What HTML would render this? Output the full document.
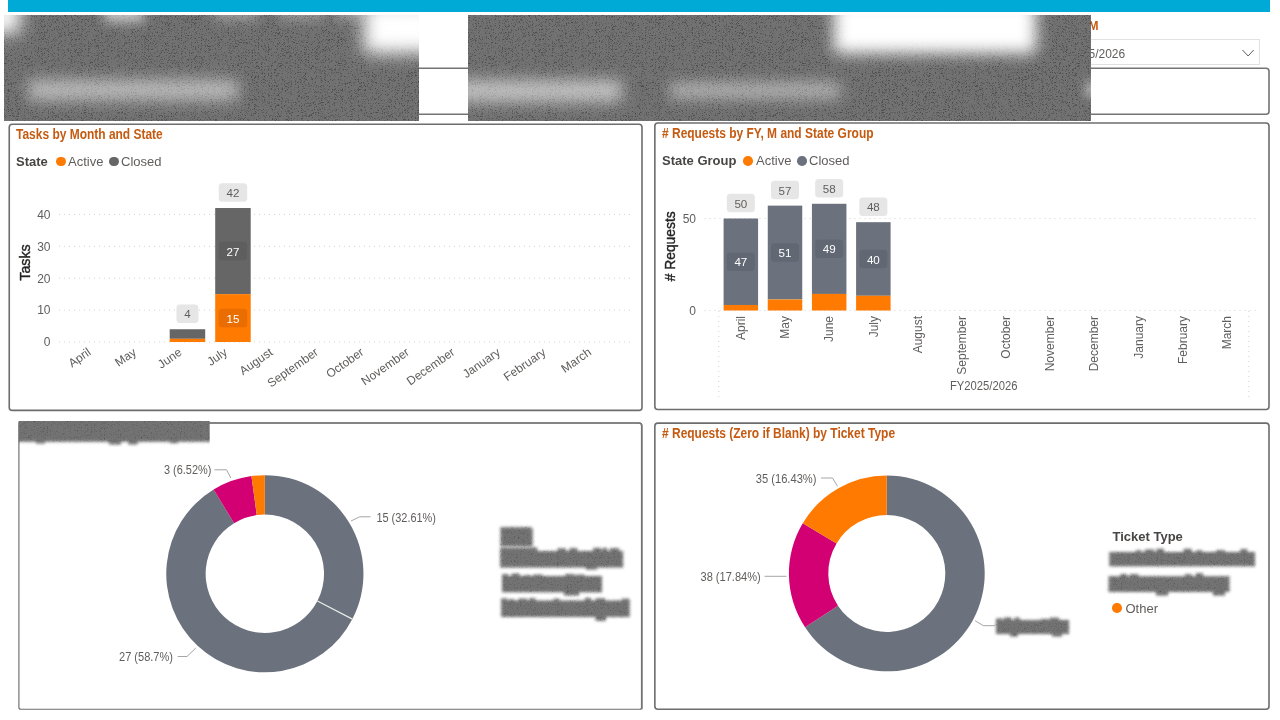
<!DOCTYPE html>
<html lang="en">
<head>
<meta charset="utf-8">
<title>Dashboard</title>
<style>
html,body{margin:0;padding:0;background:#fff;}
body{width:1280px;height:720px;position:relative;overflow:hidden;font-family:"Liberation Sans",sans-serif;color:#605e5c;}
.abs{position:absolute;}
.topbar{left:8px;top:0;width:1262px;height:12px;background:#00aad6;}
.panel{position:absolute;box-sizing:border-box;border:2px solid #767676;border-radius:4px;background:#fff;}
.title{position:absolute;font-weight:bold;color:#c55a11;font-size:14px;line-height:16px;white-space:nowrap;transform-origin:0 0;transform:scaleX(0.855);}
.leg{position:absolute;font-size:13px;line-height:16px;white-space:nowrap;color:#605e5c;}
.legb{position:absolute;font-size:13px;line-height:16px;white-space:nowrap;color:#484644;font-weight:bold;}
.dot{position:absolute;width:9.6px;height:9.6px;border-radius:50%;}
svg{position:absolute;left:0;top:0;overflow:visible;}
svg text{font-family:"Liberation Sans",sans-serif;font-size:12px;fill:#605e5c;}
.blur{position:absolute;overflow:hidden;background:#707070;}
.blob{position:absolute;}
</style>
</head>
<body>
<svg width="0" height="0" style="position:absolute">
  <defs>
    <filter id="noise" x="0" y="0" width="100%" height="100%">
      <feTurbulence type="fractalNoise" baseFrequency="2.3" numOctaves="1" seed="3" result="n"/>
      <feColorMatrix in="n" type="matrix" values="0 0 0 0 0  0 0 0 0 0  0 0 0 0 0  5 0 0 0 -2.65"/>
    </filter>
    <filter id="tp" x="-10%" y="-30%" width="120%" height="160%">
      <feGaussianBlur in="SourceGraphic" stdDeviation="1.35" result="b"/>
      <feTurbulence type="fractalNoise" baseFrequency="2.3" numOctaves="1" seed="7" result="t"/>
      <feColorMatrix in="t" type="matrix" values="0 0 0 0 0  0 0 0 0 0  0 0 0 0 0  1.7 0 0 0 -0.9" result="n"/>
      <feComposite in="n" in2="b" operator="in" result="nb"/>
      <feMerge><feMergeNode in="b"/><feMergeNode in="nb"/></feMerge>
    </filter>
  </defs>
</svg>
<div class="abs topbar"></div>
<div class="abs" style="left:1040px;top:39px;width:220px;height:26px;box-sizing:border-box;border:1px solid #e1e1e1;"></div>
<div class="abs" style="left:1088.5px;top:18px;font-weight:bold;font-size:12px;line-height:16px;color:#c55a11;">M</div>
<div class="abs" style="left:1088.5px;top:46px;font-size:12px;line-height:16px;color:#605e5c;">5/2026</div>
<svg width="1280" height="720" viewBox="0 0 1280 720"><path d="M1242.5 50 L1248.1 56 L1253.7 50" fill="none" stroke="#605e5c" stroke-width="1"/></svg>
<svg width="1280" height="720" viewBox="0 0 1280 720"><rect x="200" y="68.3" width="1069" height="46" rx="3" fill="#fff" stroke="#747474" stroke-width="1.6"/></svg>
<div class="blur" id="blur1" style="left:4px;top:15px;width:415px;height:106px;background:#727272;"><svg width="415" height="106" style="left:0;top:0;"><rect width="415" height="106" filter="url(#noise)" opacity="0.34"/></svg><div class="blob" style="left:-16px;top:-14px;width:32px;height:32px;background:#fff;filter:blur(9px);opacity:1;"></div><div class="blob" style="left:100px;top:-10px;width:40px;height:17px;background:#fff;filter:blur(6px);opacity:0.6;"></div><div class="blob" style="left:210px;top:-10px;width:44px;height:15px;background:#fff;filter:blur(6px);opacity:0.33;"></div><div class="blob" style="left:275px;top:-10px;width:44px;height:15px;background:#fff;filter:blur(6px);opacity:0.3;"></div><div class="blob" style="left:330px;top:-10px;width:30px;height:15px;background:#fff;filter:blur(6px);opacity:0.3;"></div><div class="blob" style="left:360px;top:-12px;width:75px;height:50px;background:#fff;filter:blur(9px);opacity:1;"></div><div class="blob" style="left:24px;top:65px;width:210px;height:20px;background:#fff;filter:blur(8px);opacity:0.54;"></div></div>
<div class="blur" id="blur2" style="left:468px;top:15px;width:623px;height:106px;background:#727272;"><svg width="623" height="106" style="left:0;top:0;"><rect width="623" height="106" filter="url(#noise)" opacity="0.34"/></svg><div class="blob" style="left:-14px;top:65px;width:168px;height:22px;background:#fff;filter:blur(8px);opacity:0.58;"></div><div class="blob" style="left:202px;top:68px;width:170px;height:15px;background:#fff;filter:blur(7.5px);opacity:0.5;"></div><div class="blob" style="left:366px;top:-14px;width:202px;height:52px;background:#fff;filter:blur(8px);opacity:1;"></div><div class="blob" style="left:617px;top:66px;width:14px;height:16px;background:#fff;filter:blur(5px);opacity:0.45;"></div></div>
<svg width="1280" height="720" viewBox="0 0 1280 720"><rect x="9.25" y="124.25" width="632.75" height="286.15" rx="3" fill="#fff" stroke="#6d6d6d" stroke-width="1.6"/><rect x="654.85" y="123" width="614.15" height="286.5" rx="3" fill="#fff" stroke="#6d6d6d" stroke-width="1.6"/><rect x="18.9" y="423" width="622.85" height="286.20000000000005" rx="2" fill="#fff" stroke="#6d6d6d" stroke-width="1.15"/><path d="M18.3 423 H638.75 a3 3 0 0 1 3 3 V709.2" fill="none" stroke="#747474" stroke-width="1.7"/><rect x="654.85" y="423.1" width="614.15" height="286.19999999999993" rx="3" fill="#fff" stroke="#6d6d6d" stroke-width="1.6"/></svg>
<svg width="1280" height="720" viewBox="0 0 1280 720"><defs><clipPath id="cp3"><rect x="18.6" y="421" width="191.1" height="26"/></clipPath></defs><g clip-path="url(#cp3)"><g filter="url(#tp)"><rect x="10" y="412" width="208" height="29.8" fill="#737373"/><rect x="36" y="440.5" width="9" height="3" fill="#737373"/><rect x="109" y="440.5" width="12" height="4" fill="#737373"/><rect x="128.5" y="440.5" width="9" height="4" fill="#737373"/><rect x="170" y="440.5" width="8" height="2.6" fill="#737373"/></g></g></svg>
<svg width="1280" height="720" viewBox="0 0 1280 720"><g filter="url(#tp)"><rect x="500.5" y="528.5" width="32.200000000000045" height="18.0" fill="#737373"/><rect x="500.5" y="527.2" width="31" height="2.2999999999999545" fill="#737373"/></g><g filter="url(#tp)"><rect x="500.2" y="551" width="122.90000000000003" height="16.5" fill="#737373"/><rect x="500.2" y="547.5" width="37" height="4.5" fill="#737373"/><rect x="557.6" y="548.4" width="8.3" height="5.5" fill="#737373"/><rect x="569.4" y="548.1" width="7.9" height="5.5" fill="#737373"/><rect x="593.2" y="547.9" width="7.7" height="5.5" fill="#737373"/><rect x="602.1" y="548.0" width="5.1" height="5.5" fill="#737373"/><rect x="609.8" y="548.3" width="9.5" height="5.5" fill="#737373"/><rect x="586" y="566.5" width="11" height="3.0" fill="#737373"/></g><g filter="url(#tp)"><rect x="502" y="576" width="100" height="16.299999999999955" fill="#737373"/><rect x="502.0" y="574.2" width="6.2" height="4.399999999999977" fill="#737373"/><rect x="511.6" y="573.6" width="8.1" height="4.399999999999977" fill="#737373"/><rect x="524.1" y="575.1" width="6.3" height="4.399999999999977" fill="#737373"/><rect x="533.3" y="574.6" width="9.2" height="4.399999999999977" fill="#737373"/><rect x="565.3" y="574.1" width="8.8" height="4.399999999999977" fill="#737373"/><rect x="575.2" y="574.7" width="9.3" height="4.399999999999977" fill="#737373"/><rect x="564" y="591.3" width="15" height="4.2000000000000455" fill="#737373"/></g><g filter="url(#tp)"><rect x="501.2" y="600.5" width="128.50000000000006" height="16.5" fill="#737373"/><rect x="501.2" y="598.4" width="6.2" height="4.7000000000000455" fill="#737373"/><rect x="509.0" y="599.2" width="5.3" height="4.7000000000000455" fill="#737373"/><rect x="518.5" y="598.6" width="8.8" height="4.7000000000000455" fill="#737373"/><rect x="529.5" y="598.1" width="5.9" height="4.7000000000000455" fill="#737373"/><rect x="553.4" y="598.7" width="6.0" height="4.7000000000000455" fill="#737373"/><rect x="585.0" y="597.9" width="5.9" height="4.7000000000000455" fill="#737373"/><rect x="595.6" y="598.3" width="9.3" height="4.7000000000000455" fill="#737373"/><rect x="621.8" y="598.7" width="7.5" height="4.7000000000000455" fill="#737373"/><rect x="595.5" y="616" width="10.5" height="4.7999999999999545" fill="#737373"/></g><g filter="url(#tp)"><rect x="1109.3" y="552" width="145.70000000000005" height="14.299999999999955" fill="#737373"/><rect x="1136.0" y="550.2" width="5.1" height="5.2000000000000455" fill="#737373"/><rect x="1144.7" y="549.5" width="9.5" height="5.2000000000000455" fill="#737373"/><rect x="1156.2" y="548.8" width="7.7" height="5.2000000000000455" fill="#737373"/><rect x="1183.6" y="548.8" width="8.1" height="5.2000000000000455" fill="#737373"/><rect x="1196.2" y="550.3" width="6.0" height="5.2000000000000455" fill="#737373"/><rect x="1216.3" y="550.2" width="8.4" height="5.2000000000000455" fill="#737373"/><rect x="1240.5" y="549.0" width="6.8" height="5.2000000000000455" fill="#737373"/></g><g filter="url(#tp)"><rect x="1108.6" y="576.2" width="120.90000000000009" height="15.799999999999955" fill="#737373"/><rect x="1120.5" y="574.0" width="6.3" height="5.2000000000000455" fill="#737373"/><rect x="1129.7" y="574.2" width="8.8" height="5.2000000000000455" fill="#737373"/><rect x="1184.9" y="574.2" width="6.7" height="5.2000000000000455" fill="#737373"/><rect x="1195.8" y="573.3" width="7.2" height="5.2000000000000455" fill="#737373"/><rect x="1156" y="591" width="12" height="4.5" fill="#737373"/><rect x="1213" y="591" width="12" height="4.5" fill="#737373"/></g><g filter="url(#tp)"><rect x="996" y="620" width="73" height="14" fill="#737373"/><rect x="996.0" y="618.5" width="6.6" height="4.5" fill="#737373"/><rect x="1003.9" y="617.6" width="7.7" height="4.5" fill="#737373"/><rect x="1014.6" y="617.6" width="5.2" height="4.5" fill="#737373"/><rect x="1040.7" y="619.0" width="7.9" height="4.5" fill="#737373"/><rect x="1049.8" y="617.7" width="9.3" height="4.5" fill="#737373"/><rect x="1010" y="633" width="8" height="3.5" fill="#737373"/><rect x="1052" y="633" width="10" height="3.5" fill="#737373"/></g></svg>
<div class="title" style="left:16px;top:126.1px;">Tasks by Month and State</div>
<div class="title" style="left:662px;top:124.9px;">&#35; Requests by FY, M and State Group</div>
<div class="title" style="left:662px;top:424.9px;">&#35; Requests (Zero if Blank) by Ticket Type</div>
<div class="legb" style="left:16px;top:153.5px;">State</div>
<div class="dot" style="left:55.95px;top:156.7px;background:#FF7A00;"></div><div class="leg" style="left:68px;top:153.5px;">Active</div>
<div class="dot" style="left:108.95px;top:156.7px;background:#666666;"></div><div class="leg" style="left:121px;top:153.5px;">Closed</div>
<div class="legb" style="left:662px;top:153.0px;">State Group</div>
<div class="dot" style="left:743.45px;top:156.2px;background:#FF7A00;"></div><div class="leg" style="left:756px;top:153.0px;">Active</div>
<div class="dot" style="left:797.2px;top:156.2px;background:#6B727D;"></div><div class="leg" style="left:809px;top:153.0px;">Closed</div>
<div class="legb" style="left:1112.5px;top:529px;">Ticket Type</div>
<div class="dot" style="left:1112.3px;top:603.3px;background:#FF7A00;"></div><div class="leg" style="left:1125.5px;top:600.5px;">Other</div>
<svg width="1280" height="720" viewBox="0 0 1280 720">
<line x1="59" x2="633.5" y1="342.00" y2="342.00" stroke="#d2d2d2" stroke-width="1" stroke-dasharray="1 4"/>
<text x="50.5" y="346.3" text-anchor="end" >0</text>
<line x1="59" x2="633.5" y1="310.10" y2="310.10" stroke="#d2d2d2" stroke-width="1" stroke-dasharray="1 4"/>
<text x="50.5" y="314.40000000000003" text-anchor="end" >10</text>
<line x1="59" x2="633.5" y1="278.20" y2="278.20" stroke="#d2d2d2" stroke-width="1" stroke-dasharray="1 4"/>
<text x="50.5" y="282.5" text-anchor="end" >20</text>
<line x1="59" x2="633.5" y1="246.30" y2="246.30" stroke="#d2d2d2" stroke-width="1" stroke-dasharray="1 4"/>
<text x="50.5" y="250.60000000000002" text-anchor="end" >30</text>
<line x1="59" x2="633.5" y1="214.40" y2="214.40" stroke="#d2d2d2" stroke-width="1" stroke-dasharray="1 4"/>
<text x="50.5" y="218.70000000000002" text-anchor="end" >40</text>
<text transform="translate(29.5,262.5) rotate(-90)" text-anchor="middle" style="font-size:14.3px;fill:#252423;stroke:#252423;stroke-width:0.4px" textLength="36.5" lengthAdjust="spacingAndGlyphs">Tasks</text>
<rect x="169.7" y="329.24" width="35.5" height="9.57" fill="#666666"/>
<rect x="169.7" y="338.81" width="35.5" height="3.19" fill="#FF7A00"/>
<rect x="215.2" y="208.02" width="35.5" height="86.13" fill="#666666"/>
<rect x="215.2" y="294.15" width="35.5" height="47.85" fill="#FF7A00"/>
<rect x="176.45" y="304.55" width="22" height="18.5" rx="3.5" fill="#E6E6E6"/>
<text x="187.45" y="318.40000000000003" text-anchor="middle" style="fill:#605E5C;font-size:11.6px">4</text>
<rect x="218.7" y="183.15" width="28.5" height="18.5" rx="3.5" fill="#E6E6E6"/>
<text x="232.95" y="197.0" text-anchor="middle" style="fill:#605E5C;font-size:11.6px">42</text>
<rect x="218.7" y="241.85" width="28.5" height="18.5" rx="3.5" fill="#5E5E5E"/>
<text x="232.95" y="255.7" text-anchor="middle" style="fill:#fff;font-size:11.6px">27</text>
<rect x="218.7" y="308.65" width="28.5" height="18.5" rx="3.5" fill="#E96D00"/>
<text x="232.95" y="322.5" text-anchor="middle" style="fill:#fff;font-size:11.6px">15</text>
<text transform="translate(91.65,354) rotate(-35)" text-anchor="end">April</text>
<text transform="translate(137.15,354) rotate(-35)" text-anchor="end">May</text>
<text transform="translate(182.65,354) rotate(-35)" text-anchor="end">June</text>
<text transform="translate(228.15,354) rotate(-35)" text-anchor="end">July</text>
<text transform="translate(273.65,354) rotate(-35)" text-anchor="end">August</text>
<text transform="translate(319.15,354) rotate(-35)" text-anchor="end">September</text>
<text transform="translate(364.65,354) rotate(-35)" text-anchor="end">October</text>
<text transform="translate(410.15,354) rotate(-35)" text-anchor="end">November</text>
<text transform="translate(455.65,354) rotate(-35)" text-anchor="end">December</text>
<text transform="translate(501.15,354) rotate(-35)" text-anchor="end">January</text>
<text transform="translate(546.65,354) rotate(-35)" text-anchor="end">February</text>
<text transform="translate(592.15,354) rotate(-35)" text-anchor="end">March</text>
<line x1="704.5" x2="1259" y1="310.50" y2="310.50" stroke="#d2d2d2" stroke-width="1" stroke-dasharray="1 4"/>
<text x="696" y="314.8" text-anchor="end" >0</text>
<line x1="704.5" x2="1259" y1="218.50" y2="218.50" stroke="#d2d2d2" stroke-width="1" stroke-dasharray="1 4"/>
<text x="696" y="222.8" text-anchor="end" >50</text>
<line x1="718.75" x2="718.75" y1="311" y2="397" stroke="#d2d2d2" stroke-width="1" stroke-dasharray="1 4"/>
<line x1="1248.75" x2="1248.75" y1="311" y2="397" stroke="#d2d2d2" stroke-width="1" stroke-dasharray="1 4"/>
<text transform="translate(675.4,246.3) rotate(-90)" text-anchor="middle" style="font-size:14.3px;fill:#252423;stroke:#252423;stroke-width:0.4px" textLength="70" lengthAdjust="spacingAndGlyphs">&#35; Requests</text>
<rect x="723.585" y="218.50" width="34.5" height="86.48" fill="#6B727D"/>
<rect x="723.585" y="304.98" width="34.5" height="5.52" fill="#FF7A00"/>
<rect x="726.835" y="193.75" width="28" height="18.5" rx="3.5" fill="#E6E6E6"/>
<text x="740.835" y="207.6" text-anchor="middle" style="fill:#605E5C;font-size:11.6px">50</text>
<rect x="726.835" y="252.49" width="28" height="18.5" rx="3.5" fill="#616874"/>
<text x="740.835" y="266.34000000000003" text-anchor="middle" style="fill:#fff;font-size:11.6px">47</text>
<rect x="767.755" y="205.62" width="34.5" height="93.84" fill="#6B727D"/>
<rect x="767.755" y="299.46" width="34.5" height="11.04" fill="#FF7A00"/>
<rect x="771.005" y="180.87" width="28" height="18.5" rx="3.5" fill="#E6E6E6"/>
<text x="785.005" y="194.72" text-anchor="middle" style="fill:#605E5C;font-size:11.6px">57</text>
<rect x="771.005" y="243.29" width="28" height="18.5" rx="3.5" fill="#616874"/>
<text x="785.005" y="257.14" text-anchor="middle" style="fill:#fff;font-size:11.6px">51</text>
<rect x="811.925" y="203.78" width="34.5" height="90.16" fill="#6B727D"/>
<rect x="811.925" y="293.94" width="34.5" height="16.56" fill="#FF7A00"/>
<rect x="815.175" y="179.03" width="28" height="18.5" rx="3.5" fill="#E6E6E6"/>
<text x="829.175" y="192.88" text-anchor="middle" style="fill:#605E5C;font-size:11.6px">58</text>
<rect x="815.175" y="239.61" width="28" height="18.5" rx="3.5" fill="#616874"/>
<text x="829.175" y="253.46" text-anchor="middle" style="fill:#fff;font-size:11.6px">49</text>
<rect x="856.095" y="222.18" width="34.5" height="73.60" fill="#6B727D"/>
<rect x="856.095" y="295.78" width="34.5" height="14.72" fill="#FF7A00"/>
<rect x="859.345" y="197.43" width="28" height="18.5" rx="3.5" fill="#E6E6E6"/>
<text x="873.345" y="211.28" text-anchor="middle" style="fill:#605E5C;font-size:11.6px">48</text>
<rect x="859.345" y="249.73000000000002" width="28" height="18.5" rx="3.5" fill="#616874"/>
<text x="873.345" y="263.58000000000004" text-anchor="middle" style="fill:#fff;font-size:11.6px">40</text>
<text transform="translate(745.13,316) rotate(-90)" text-anchor="end">April</text>
<text transform="translate(789.30,316) rotate(-90)" text-anchor="end">May</text>
<text transform="translate(833.47,316) rotate(-90)" text-anchor="end">June</text>
<text transform="translate(877.64,316) rotate(-90)" text-anchor="end">July</text>
<text transform="translate(921.81,316) rotate(-90)" text-anchor="end">August</text>
<text transform="translate(965.98,316) rotate(-90)" text-anchor="end">September</text>
<text transform="translate(1010.15,316) rotate(-90)" text-anchor="end">October</text>
<text transform="translate(1054.33,316) rotate(-90)" text-anchor="end">November</text>
<text transform="translate(1098.49,316) rotate(-90)" text-anchor="end">December</text>
<text transform="translate(1142.66,316) rotate(-90)" text-anchor="end">January</text>
<text transform="translate(1186.84,316) rotate(-90)" text-anchor="end">February</text>
<text transform="translate(1231.00,316) rotate(-90)" text-anchor="end">March</text>
<text x="983.75" y="390" text-anchor="middle" textLength="67.5" lengthAdjust="spacingAndGlyphs" >FY2025/2026</text>
<path d="M264.85 475.15 A98.6 98.6 0 0 1 352.40 619.11 L317.41 600.99 A59.2 59.2 0 0 0 264.85 514.55 Z" fill="#6B727D"/>
<path d="M352.40 619.11 A98.6 98.6 0 1 1 213.62 489.50 L234.09 523.17 A59.2 59.2 0 1 0 317.41 600.99 Z" fill="#6B727D"/>
<path d="M213.62 489.50 A98.6 98.6 0 0 1 251.42 476.07 L256.79 515.10 A59.2 59.2 0 0 0 234.09 523.17 Z" fill="#D20073"/>
<path d="M251.42 476.07 A98.6 98.6 0 0 1 264.85 475.15 L264.85 514.55 A59.2 59.2 0 0 0 256.79 515.10 Z" fill="#FF7A00"/>
<line x1="352.40" y1="619.11" x2="317.41" y2="600.99" stroke="#e8e8e8" stroke-width="1.2"/>
<text x="164" y="474.3" text-anchor="start" textLength="47.4" lengthAdjust="spacingAndGlyphs" >3 (6.52%)</text>
<polyline points="214.5,469.8 226.5,469.8 230.9,478" fill="none" stroke="#a6a6a6" stroke-width="1"/>
<text x="376.4" y="521.6" text-anchor="start" textLength="59.6" lengthAdjust="spacingAndGlyphs" >15 (32.61%)</text>
<polyline points="351,521 359.7,516.8 370.5,516.8" fill="none" stroke="#a6a6a6" stroke-width="1"/>
<text x="173" y="661" text-anchor="end" textLength="54" lengthAdjust="spacingAndGlyphs" >27 (58.7%)</text>
<polyline points="177.7,656.5 187,656.5 195.8,648" fill="none" stroke="#a6a6a6" stroke-width="1"/>
<path d="M886.80 475.55 A97.9 97.9 0 1 1 805.05 627.31 L837.95 605.64 A58.5 58.5 0 1 0 886.80 514.95 Z" fill="#6B727D"/>
<path d="M805.05 627.31 A97.9 97.9 0 0 1 802.75 523.25 L836.57 543.46 A58.5 58.5 0 0 0 837.95 605.64 Z" fill="#D20073"/>
<path d="M802.75 523.25 A97.9 97.9 0 0 1 886.80 475.55 L886.80 514.95 A58.5 58.5 0 0 0 836.57 543.46 Z" fill="#FF7A00"/>
<text x="816.5" y="483" text-anchor="end" textLength="60.75" lengthAdjust="spacingAndGlyphs" >35 (16.43%)</text>
<polyline points="821,478 832.5,478 837.5,486.3" fill="none" stroke="#a6a6a6" stroke-width="1"/>
<text x="760.75" y="581" text-anchor="end" textLength="60.25" lengthAdjust="spacingAndGlyphs" >38 (17.84%)</text>
<polyline points="764.5,576.3 786.5,576.3" fill="none" stroke="#a6a6a6" stroke-width="1"/>
<polyline points="975,620.7 983.3,625.7 995,625.7" fill="none" stroke="#a6a6a6" stroke-width="1"/>
</svg>
</body>
</html>
